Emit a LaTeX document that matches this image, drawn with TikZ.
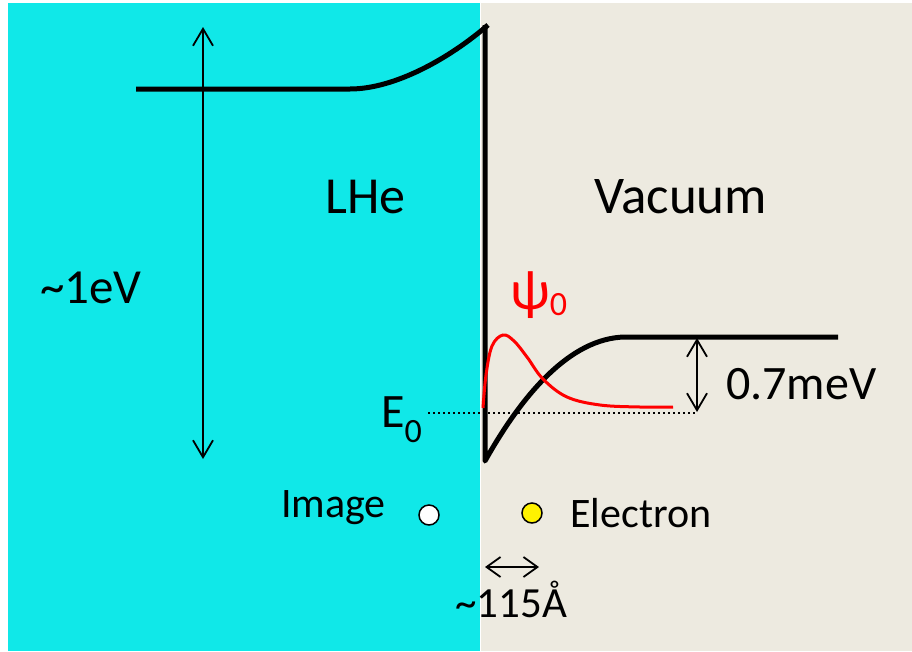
\documentclass[tikz,border=0pt]{standalone}
\usepackage{fontspec}
\setmainfont{Carlito}
\usetikzlibrary{arrows.meta}
\definecolor{lhe}{RGB}{16,232,232}
\definecolor{vac}{RGB}{237,234,224}
\begin{document}
\begin{tikzpicture}[x=1pt,y=-1pt,
  thickline/.style={line width=5pt, line join=round},
  dimarrow/.style={line width=1.8pt,{Straight Barb[length=17pt,width=20pt]}-{Straight Barb[length=17pt,width=20pt]}},
  smallarrow/.style={line width=1.8pt,{Straight Barb[length=14pt,width=20pt]}-{Straight Barb[length=14pt,width=20pt]}},
  lbl/.style={inner sep=0pt, anchor=base west, text=black}]
\useasboundingbox (0,0) rectangle (912,651);
\fill[white] (0,0) rectangle (912,651);
\fill[lhe] (8,3) rectangle (479.5,651);
\fill[vac] (481,3) rectangle (912,651);

% energy arrows
\coordinate (evTop) at (203,27);
\coordinate (evBot) at (203,459);
\draw[dimarrow] (evTop) -- (evBot);

% barrier
\draw[thickline] (136,89) -- (350,89) .. controls (395,89) and (450,58) .. (488,25);
\draw[thickline] (485,25) -- (485,461) .. controls (522,395) and (570,338) .. (625,337) -- (838,337);

% dotted E0 level
\coordinate (dotL) at (428,413);
\coordinate (dotR) at (697,413);
\draw[line width=2.4pt, dash pattern=on 2.4pt off 2.6pt] (dotL) -- (dotR);

% wavefunction
\draw[red, line width=3pt] plot[smooth, tension=0.6] coordinates {(483,408) (486,375) (492,346) (503,335) (514,341) (527,357) (543,379) (567,397) (600,405) (640,407) (673,407)};

% 0.7 meV arrow
\coordinate (mevTop) at (697,338);
\coordinate (mevBot) at (697,412);
\draw[dimarrow] (mevTop) -- (mevBot);

% distance arrow
\coordinate (dL) at (485,567);
\coordinate (dR) at (539,567);
\draw[smallarrow] (dL) -- (dR);

% charges
\node[circle, draw=black, line width=1.5pt, fill=white, minimum size=20pt, inner sep=0pt] (img) at (429,515) {};
\node[circle, draw=black, line width=1.5pt, fill=yellow, minimum size=20pt, inner sep=0pt] (el) at (532,513) {};

% labels
\node[lbl, font=\fontsize{52}{52}\selectfont] (lhe) at (325,213) {LHe};
\node[lbl, font=\fontsize{53}{53}\selectfont] (vac) at (594,213) {Vacuum};
\node[lbl, font=\fontsize{49}{49}\selectfont] (ev) at (40,303) {\textasciitilde1eV};
\node[lbl, font=\fontsize{48}{48}\selectfont] (mev) at (726,399) {0.7meV};
\node[lbl, font=\fontsize{42}{42}\selectfont] (imgl) at (281,517) {Image};
\node[lbl, font=\fontsize{42}{42}\selectfont] (ell) at (570,527) {Electron};
\node[lbl, font=\fontsize{43}{43}\selectfont] (dist) at (455,617) {\textasciitilde115Å};
\node[lbl, font=\fontsize{48}{48}\selectfont] (e0) at (381,427) {E\raisebox{-15pt}{\fontsize{34}{34}\selectfont 0}};
\node[lbl, text=red, font=\fontsize{56}{56}\selectfont] (psi) at (510,309) {ψ\raisebox{-6pt}{\fontsize{34}{34}\selectfont 0}};
\end{tikzpicture}
\end{document}
